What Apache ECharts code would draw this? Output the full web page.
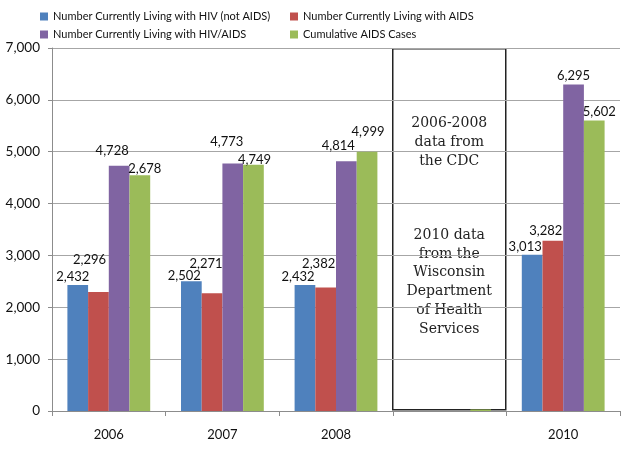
<!DOCTYPE html>
<html>
<head>
<meta charset="utf-8">
<script src="https://cdn.jsdelivr.net/npm/echarts@6/dist/echarts.min.js"></script>
<style>
  html, body { margin: 0; padding: 0; background: #fff; }
  #main { width: 630px; height: 450px; }
</style>
</head>
<body>
<div id="main"></div>
<script>
// data
var categories = ['2006', '2007', '2008', '', '2010'];
var hivNotAids = [2432, 2502, 2432, null, 3013];
var livingAids = [2296, 2271, 2382, null, 3282];
var hivAids = [4728, 4773, 4814, null, 6295];
// green bar heights as drawn; the printed labels differ for 2006
var cumulativeAids = [4545, 4749, 4999, 30, 5602];
var cumulativeLabels = ['2,678', '4,749', '4,999', '', '5,602'];
var yTicks = [0, 1000, 2000, 3000, 4000, 5000, 6000, 7000];

var names = [
    'Number Currently Living with HIV (not AIDS)',
    'Number Currently Living with AIDS',
    'Number Currently Living with HIV/AIDS',
    'Cumulative AIDS Cases'
];
var colors = ['#4F81BD', '#C0504D', '#8064A2', '#9BBB59'];

// label nudges [dx, dy] like excel placed them
var nudges = [
    [[-5, -1], [-7, 2], [-7, -1], null, [-7, -1]],
    [[-9, -25], [-6, -22], [-7, -17], null, [-7, -3]],
    [[-7, -8], [-6, -15], [-8, -9], null, [0, -2]],
    [[5, 1], [1, 2], [1, -13], null, [5, -2]]
];

var fmt = function (v) {
    return v.toString().replace(/\B(?=(\d{3})+(?!\d))/g, ',');
};

function makeSeries(idx, values, labels) {
    return {
        name: names[idx],
        type: 'bar',
        barWidth: 20.7,
        barGap: '0%',
        itemStyle: { color: colors[idx] },
        data: values.map(function (v, i) {
            if (v == null) return '-';
            var n = nudges[idx][i];
            return {
                value: v,
                label: n ? { offset: n } : { show: false }
            };
        }),
        label: {
            show: true,
            position: 'top',
            distance: 0,
            color: '#111',
            fontFamily: 'Lato',
            fontSize: 13,
            lineHeight: 14,
            formatter: function (p) {
                return labels ? labels[p.dataIndex] : fmt(p.value);
            }
        }
    };
}

var legendText = {
    fontFamily: '"Liberation Sans Narrow", Lato',
    fontSize: 11,
    color: '#111'
};

var myChart = echarts.init(document.getElementById('main'));

myChart.setOption({
    animation: false,
    backgroundColor: '#fff',
    textStyle: { fontFamily: 'Lato' },
    legend: [{
        orient: 'vertical',
        left: 35,
        top: 6,
        itemWidth: 8,
        itemHeight: 8,
        itemGap: 7,
        icon: 'rect',
        data: [names[0], names[2]],
        textStyle: legendText
    }, {
        orient: 'vertical',
        left: 285,
        top: 6,
        itemWidth: 8,
        itemHeight: 8,
        itemGap: 7,
        icon: 'rect',
        data: [names[1], names[3]],
        textStyle: legendText
    }],
    grid: { left: 52, right: 10, top: 48, bottom: 39 },
    xAxis: {
        type: 'category',
        data: categories,
        axisLine: { lineStyle: { color: '#8c8c8c' } },
        axisTick: { show: true, length: 5, lineStyle: { color: '#8c8c8c' } },
        axisLabel: { color: '#111', fontSize: 13, margin: 17 }
    },
    yAxis: {
        type: 'value',
        min: yTicks[0],
        max: yTicks[yTicks.length - 1],
        interval: yTicks[1] - yTicks[0],
        axisLine: { show: true, lineStyle: { color: '#8c8c8c' } },
        axisTick: { show: true, length: 4, lineStyle: { color: '#8c8c8c' } },
        axisLabel: { color: '#111', fontSize: 13.5, margin: 12, formatter: fmt },
        splitLine: { lineStyle: { color: '#a6a6a6' } }
    },
    series: [
        makeSeries(0, hivNotAids),
        makeSeries(1, livingAids),
        makeSeries(2, hivAids),
        makeSeries(3, cumulativeAids, cumulativeLabels)
    ],
    graphic: [{
        type: 'group',
        left: 392,
        top: 48,
        z: 100,
        children: [{
            type: 'rect',
            shape: { x: 0, y: 0, width: 113, height: 361 },
            style: { fill: '#fff', stroke: '#222', lineWidth: 1.5 }
        }, {
            type: 'text',
            x: 56.5,
            y: 65,
            style: {
                text: '2006-2008\ndata from\nthe CDC',
                fill: '#222',
                font: '14px "DejaVu Serif"',
                align: 'center',
                lineHeight: 19
            }
        }, {
            type: 'text',
            x: 56.5,
            y: 177,
            style: {
                text: '2010 data\nfrom the\nWisconsin\nDepartment\nof Health\nServices',
                fill: '#222',
                font: '14px "DejaVu Serif"',
                align: 'center',
                lineHeight: 18.8
            }
        }]
    }]
});
</script>
</body>
</html>
